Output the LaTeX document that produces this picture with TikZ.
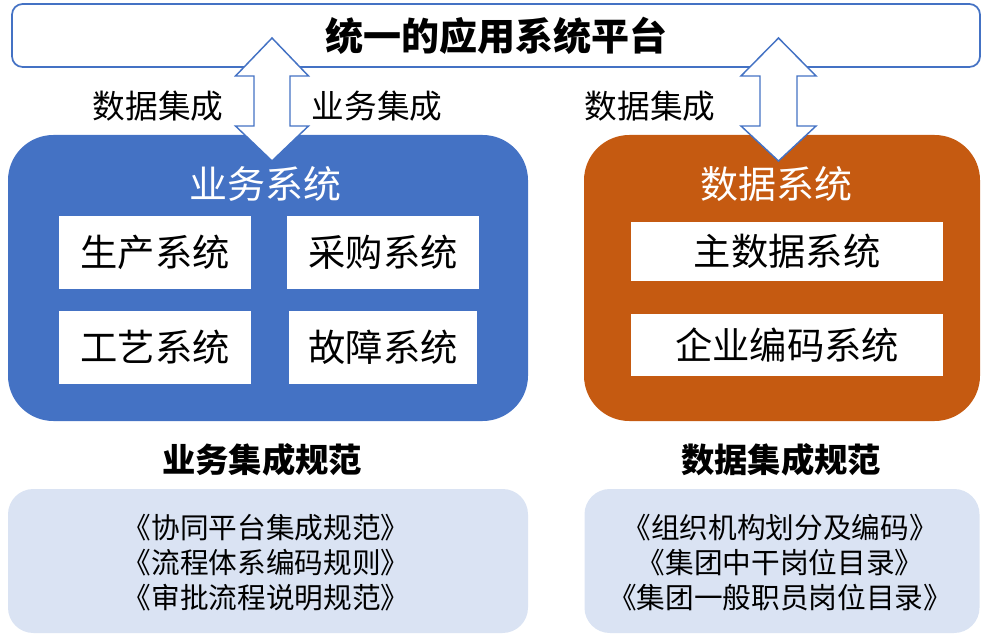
\documentclass[tikz,border=0pt]{standalone}
\usepackage{fontspec}
\setmainfont{Noto Sans CJK SC}
\definecolor{cblue}{HTML}{4472C4}
\definecolor{corange}{HTML}{C55A11}
\definecolor{clight}{HTML}{DAE3F3}
\begin{document}
\begin{tikzpicture}[x=0.75pt,y=-0.75pt,
  box/.style={rectangle,inner sep=0pt,anchor=center},
  topbox/.style={box,draw=cblue,line width=1.3pt,fill=white,rounded corners=8pt,
    minimum width=726pt,minimum height=47.25pt,font=\fontsize{28.5}{32}\selectfont\bfseries},
  sysblue/.style={box,fill=cblue,rounded corners=34pt,minimum width=390pt,minimum height=214.5pt},
  sysorange/.style={box,fill=corange,rounded corners=34pt,minimum width=297pt,minimum height=214.5pt},
  systitle/.style={text=white,font=\fontsize{28.5}{32}\selectfont,inner sep=0pt},
  subbox/.style={box,fill=white,minimum height=54.75pt,font=\fontsize{28}{32}\selectfont},
  label/.style={inner sep=0pt,font=\fontsize{24.5}{28}\selectfont},
  header/.style={inner sep=0pt,font=\fontsize{25}{28}\selectfont\bfseries},
  specbox/.style={box,fill=clight,rounded corners=19pt,minimum height=108pt},
  spectext/.style={inner sep=0pt,align=center,font=\fontsize{21.5}{26.3}\selectfont},
  bigarrow/.style={draw=cblue,line width=1.1pt,fill=white,line join=miter}
]
\useasboundingbox (0,0) rectangle (981,634);

% top platform
\node[topbox] (platform) at (496,35.5) {统一的应用系统平台};

% system boxes
\node[sysblue] (bizsys) at (268,278) {};
\node[sysorange] (datasys) at (782,278) {};

\node[systitle] (biztitle) at (265,184) {业务系统};
\node[systitle] (datatitle) at (776,184) {数据系统};

\node[subbox,minimum width=144pt] (prod) at (155,252.5) {生产系统};
\node[subbox,minimum width=144pt] (purch) at (383,252.5) {采购系统};
\node[subbox,minimum width=144pt] (craft) at (155,347.5) {工艺系统};
\node[subbox,minimum width=141pt] (fault) at (383,347.5) {故障系统};

\node[subbox,minimum width=234pt,minimum height=44.25pt] (master) at (787,251.5) {主数据系统};
\node[subbox,minimum width=234pt,minimum height=46.5pt] (coding) at (787,345) {企业编码系统};

% double arrows
\draw[bigarrow] (272,38) -- (308.5,76) -- (290,76) -- (290,126) -- (308.5,126) -- (272,161)
  -- (235.5,126) -- (254,126) -- (254,76) -- (235.5,76) -- cycle;
\draw[bigarrow] (778.5,38) -- (816,76) -- (797,76) -- (797,126) -- (816,126) -- (778.5,161)
  -- (741,126) -- (760,126) -- (760,76) -- (741,76) -- cycle;

\node[label] (l1) at (158,106) {数据集成};
\node[label] (l2) at (377,106) {业务集成};
\node[label] (l3) at (650,106) {数据集成};

% specifications
\node[header] (bizspec) at (262,460) {业务集成规范};
\node[header] (dataspec) at (781,460) {数据集成规范};

\node[specbox,minimum width=390pt] (bizlist) at (268,561) {};
\node[specbox,minimum width=296.25pt] (datalist) at (782,561) {};

\node[spectext] (bizitems) at (266,563) {《协同平台集成规范》\\《流程体系编码规则》\\《审批流程说明规范》};
\node[spectext] (dataitems) at (780,563) {《组织机构划分及编码》\\《集团中干岗位目录》\\《集团一般职员岗位目录》};
\end{tikzpicture}
\end{document}
